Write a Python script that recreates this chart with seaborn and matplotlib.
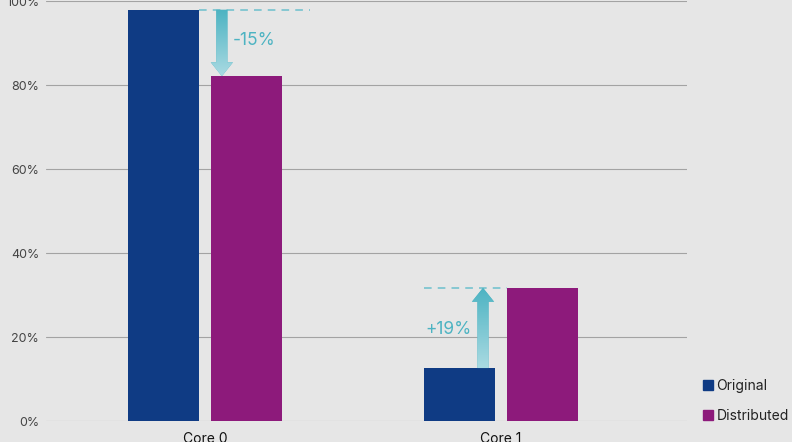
import numpy as np
import pandas as pd
import matplotlib
matplotlib.use("Agg")
import matplotlib.pyplot as plt
from matplotlib.patches import FancyArrowPatch
from matplotlib.colors import LinearSegmentedColormap
import seaborn as sns

cores = ["Core 0", "Core 1"]
original = [97.9, 12.6]
distributed = [82.1, 31.7]
change_labels = ["-15%", "+19%"]
yticks = [0, 20, 40, 60, 80, 100]

df = pd.DataFrame({
    "core": cores * 2,
    "load": original + distributed,
    "mode": ["Original"] * 2 + ["Distributed"] * 2,
})

sns.set_theme(style="white")
plt.rcParams["font.family"] = ["Inter", "DejaVu Sans"]

bg = "#e6e6e6"
teal_dark = "#4cb3c2"
teal_light = "#a9dae2"

fig = plt.figure(figsize=(7.92, 4.42), dpi=100, facecolor=bg)
ax = fig.add_axes([0.0581, 0.0475, 0.8093, 0.9502])
ax.set_facecolor(bg)

sns.barplot(data=df, x="core", y="load", hue="mode",
            palette={"Original": "#0f3b84", "Distributed": "#8d1a7b"},
            width=0.56, gap=0.145, saturation=1, ax=ax, legend=False,
            linewidth=0, zorder=3)

ax.set_xlim(-0.537, 1.628)
ax.set_ylim(0, 100)
ax.set_yticks(yticks)
ax.set_yticklabels([f"{t}%" for t in yticks])
ax.grid(axis="y", color="#a3a3a3", linewidth=0.8, zorder=0)
ax.set_axisbelow(True)
for s in ax.spines.values():
    s.set_visible(False)
ax.tick_params(axis="y", length=0, pad=5, labelsize=9, labelcolor="#444444")
ax.tick_params(axis="x", length=0, pad=8, labelsize=10, labelcolor="#111111")
ax.set_xlabel("")
ax.set_ylabel("")

cmap = LinearSegmentedColormap.from_list("tl", [teal_dark, teal_light])


def change_arrow(xc, y0, y1, dash_x0, dash_x1, label, tx, ty):
    ax.plot([dash_x0, dash_x1], [max(y0, y1)] * 2, color="#6cc0cc",
            linewidth=1.1, dashes=(5, 4), zorder=4)
    arr = FancyArrowPatch((xc, y0), (xc, y1),
                          arrowstyle="simple,head_width=1.6,head_length=1.0,tail_width=0.8",
                          mutation_scale=10, shrinkA=0, shrinkB=0,
                          color=teal_dark, linewidth=0, zorder=5)
    ax.add_patch(arr)
    grad = np.linspace(0, 1, 100).reshape(-1, 1)
    lo, hi = min(y0, y1), max(y0, y1)
    im = ax.imshow(grad, cmap=cmap, aspect="auto", origin="upper",
                   extent=[xc - 0.06, xc + 0.06, lo, hi], zorder=6)
    im.set_clip_path(arr)
    ax.text(tx, ty, label, color=teal_dark, fontsize=12.5, va="center",
            ha="left", zorder=6)


change_arrow(0.057, original[0], distributed[0], -0.02, 0.355,
             change_labels[0], 0.095, 90.5)
change_arrow(1 - 0.061, original[1], distributed[1], 1 - 0.26, 1.02,
             change_labels[1], 1 - 0.257, 21.7)
ax.set_xlim(-0.537, 1.628)
ax.set_ylim(0, 100)

handles = [plt.Rectangle((0, 0), 1, 1, color="#0f3b84"),
           plt.Rectangle((0, 0), 1, 1, color="#8d1a7b")]
fig.legend(handles, ["Original", "Distributed"], loc="lower left",
           bbox_to_anchor=(0.888, 0.043), frameon=False, fontsize=10,
           handlelength=0.7, handleheight=0.7, handletextpad=0.25,
           labelspacing=1.15, borderpad=0, borderaxespad=0,
           labelcolor="#222222")

fig.savefig("out.png", dpi=100, facecolor=bg)
